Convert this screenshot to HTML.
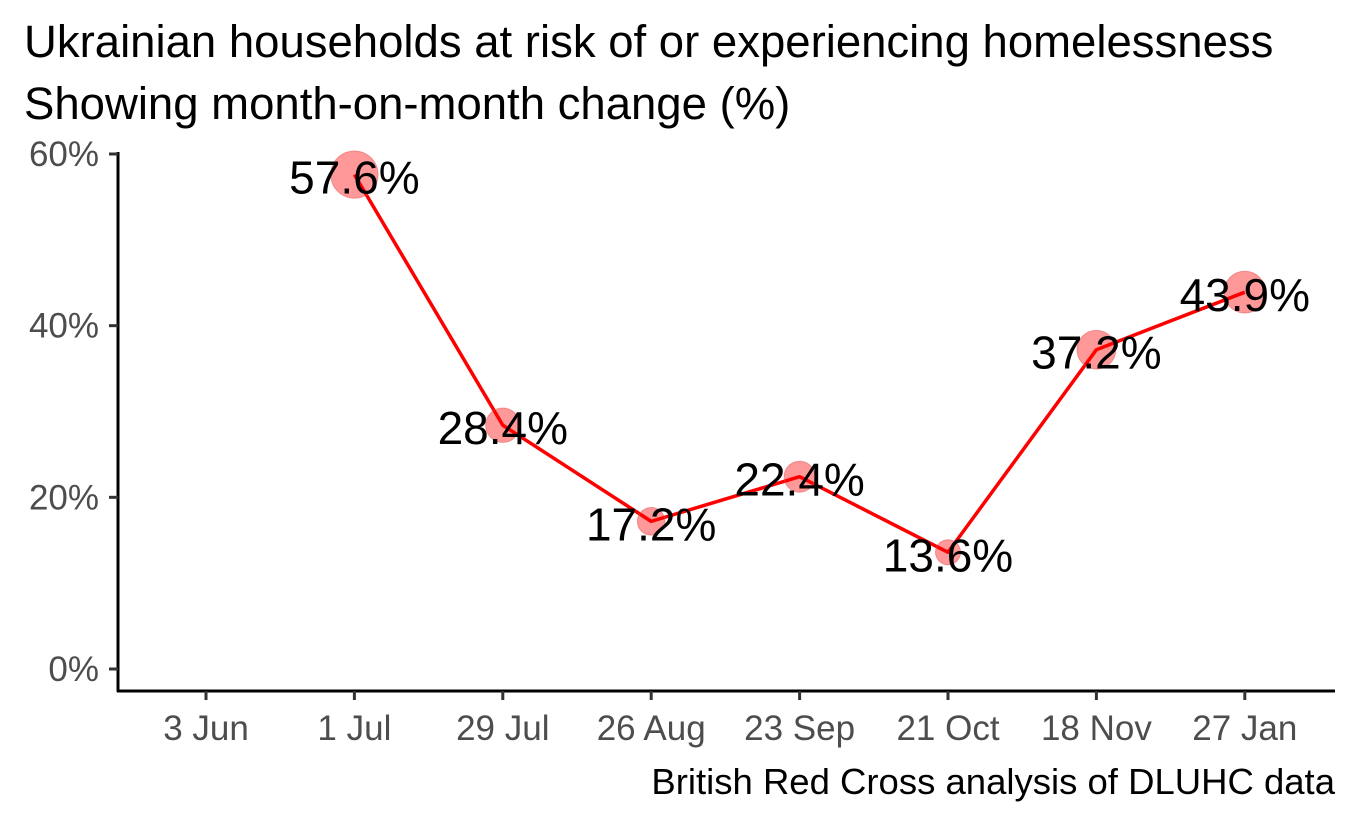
<!DOCTYPE html>
<html><head><meta charset="utf-8">
<style>
html,body{margin:0;padding:0;background:#fff;}
svg{display:block;font-family:"Liberation Sans",Arial,sans-serif;}
</style></head>
<body>
<svg id="chart" width="1358" height="826" viewBox="0 0 1358 826">
  <text x="24" y="57" font-size="45.5" fill="#000">Ukrainian households at risk of or experiencing homelessness</text>
  <text x="24" y="119" font-size="45.5" fill="#000">Showing month-on-month change (%)</text>
  <text x="1335" y="794" font-size="36.5" text-anchor="end" fill="#000">British Red Cross analysis of DLUHC data</text>
  <g id="axes"></g>
  <g id="marks"></g>
</svg>
<script>
const categories = ["3 Jun","1 Jul","29 Jul","26 Aug","23 Sep","21 Oct","18 Nov","27 Jan"];
const values = [null,57.6,28.4,17.2,22.4,13.6,37.2,43.9];
const yTicks = [0,20,40,60];
const yTickLabels = ["0%","20%","40%","60%"];

const NS="http://www.w3.org/2000/svg";
const x0=206, xStep=148.4;
const xScale=i=>x0+i*xStep;
const yScale=v=>669-v*(669-154)/60;
function mk(tag,attrs,parent){const e=document.createElementNS(NS,tag);for(const k in attrs)e.setAttribute(k,attrs[k]);parent.appendChild(e);return e;}
const axes=document.getElementById('axes'), marks=document.getElementById('marks');

let yl=mk('line',{x1:118,y1:152,x2:118,y2:692,stroke:'#000','stroke-width':3},axes);


let xl=mk('line',{x1:117,y1:691,x2:1335,y2:691,stroke:'#000','stroke-width':3},axes);



yTicks.forEach((t,i)=>{
  const y=yScale(t);
  const tk=mk('line',{x1:109,y1:y,x2:118,y2:y,stroke:'#333','stroke-width':3},axes);
  
  
  const tx=mk('text',{x:99,y:y+12,'font-size':35,'text-anchor':'end',fill:'#4d4d4d'},axes);
  tx.textContent=yTickLabels[i];
  
  
});
categories.forEach((c,i)=>{
  const x=xScale(i);
  const tk=mk('line',{x1:x,y1:691,x2:x,y2:700,stroke:'#333','stroke-width':3},axes);
  
  
  const tx=mk('text',{x:x,y:740,'font-size':35,'text-anchor':'middle',fill:'#4d4d4d'},axes);
  tx.textContent=c;
  
  
});

const pts=[];
values.forEach((v,i)=>{if(v!==null)pts.push([xScale(i),yScale(v),v]);});
const line=mk('polyline',{points:pts.map(p=>p[0]+','+p[1]).join(' '),fill:'none',stroke:'#ff0000','stroke-width':3.5,'stroke-linejoin':'round'},marks);


pts.forEach(p=>{
  const r=2+Math.sqrt(p[2])*2.85;
  const c=mk('circle',{cx:p[0],cy:p[1],r:r,fill:'rgba(255,0,0,0.4)',stroke:'rgba(230,80,80,0.5)','stroke-width':1},marks);
  
  
});
pts.forEach(p=>{
  const t=mk('text',{x:p[0],y:p[1]+19,'font-size':46,'text-anchor':'middle',fill:'#000'},marks);
  t.textContent=p[2].toFixed(1)+'%';
  
  
});
</script>
</body></html>
